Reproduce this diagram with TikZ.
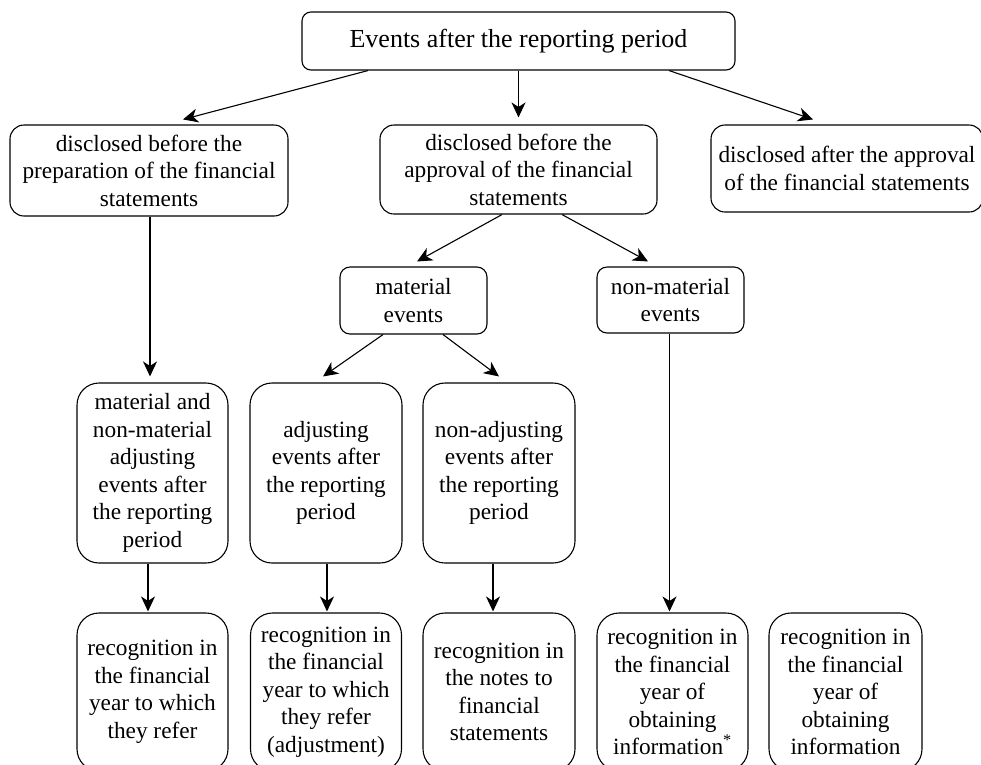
\documentclass[tikz,border=0pt]{standalone}
\usepackage{fontspec}
\setmainfont{Liberation Serif}
\usetikzlibrary{arrows.meta}
\begin{document}
\begin{tikzpicture}[x=1pt,y=-1pt,
		box/.style={draw,line width=1.1pt,align=center,inner sep=0pt,font=\fontsize{23.3}{27.5}\selectfont},
		arr/.style={-{Stealth[length=15pt,width=14pt,inset=4.5pt]},line width=1.1pt}]
		\useasboundingbox (0,0) rectangle (981,764);
		
		\node[box,rounded corners=9pt,minimum width=433pt,minimum height=58pt,font=\fontsize{26}{31}\selectfont] (top) at (518.5,41) {Events after the reporting period};
		
		\node[box,rounded corners=14pt,minimum width=278pt,minimum height=91pt] (A) at (149,170.5) {disclosed before the\\preparation of the financial\\statements};
		\node[box,rounded corners=14pt,minimum width=277pt,minimum height=89pt] (B) at (518.5,169.5) {disclosed before the\\approval of the financial\\statements};
		\node[box,rounded corners=14pt,minimum width=272pt,minimum height=87pt] (C) at (847,168.5) {disclosed after the approval\\of the financial statements};
		
		\node[box,rounded corners=10pt,minimum width=147pt,minimum height=67pt] (mat) at (413.5,300.5) {material\\events};
		\node[box,rounded corners=10pt,minimum width=147pt,minimum height=66pt] (nonmat) at (670.5,300) {non-material\\events};
		
		\node[box,rounded corners=22pt,minimum width=151pt,minimum height=180pt] (D) at (152.5,473) {material and\\non-material\\adjusting\\events after\\the reporting\\period};
		\node[box,rounded corners=22pt,minimum width=152pt,minimum height=180pt] (E) at (326,473) {adjusting\\events after\\the reporting\\period};
		\node[box,rounded corners=22pt,minimum width=152pt,minimum height=180pt] (F) at (499,473) {non-adjusting\\events after\\the reporting\\period};
		
		\node[box,rounded corners=22pt,minimum width=151pt,minimum height=158pt] (D2) at (152.5,692) {recognition in\\the financial\\year to which\\they refer};
		\node[box,rounded corners=22pt,minimum width=151pt,minimum height=158pt] (E2) at (326,692) {recognition in\\the financial\\year to which\\they refer\\(adjustment)};
		\node[box,rounded corners=22pt,minimum width=152pt,minimum height=158pt] (F2) at (499,692) {recognition in\\the notes to\\financial\\statements};
		\node[box,rounded corners=22pt,minimum width=151pt,minimum height=158pt] (G2) at (672.5,692) {recognition in\\the financial\\year of\\obtaining\\information\textsuperscript{*}};
		\node[box,rounded corners=22pt,minimum width=153pt,minimum height=158pt] (H2) at (845.5,692) {recognition in\\the financial\\year of\\obtaining\\information};
		
		\draw[arr] ([xshift=-150.5pt]top.south) -- ([xshift=34pt,yshift=5pt]A.north);
		\draw[arr] (top.south) -- ([yshift=7pt]B.north);
		\draw[arr] ([xshift=150.5pt]top.south) -- ([xshift=-34pt,yshift=5pt]C.north);
		
		\draw[arr] ([xshift=-16.5pt]B.south) -- ([xshift=3.5pt,yshift=5pt]mat.north);
		\draw[arr] ([xshift=43.5pt]B.south) -- ([xshift=-22.5pt,yshift=5pt]nonmat.north);
		
		\draw[arr] ([xshift=1pt]A.south) -- ([xshift=-2.5pt,yshift=6pt]D.north);
		\draw[arr] ([xshift=-30.5pt]mat.south) -- ([xshift=-3pt,yshift=6pt]E.north);
		\draw[arr] ([xshift=29.5pt]mat.south) -- ([yshift=6pt]F.north);
		
		\foreach \a/\b/\s in {D/D2/-4.5,E/E2/1,F/F2/-6}
			\draw[arr] ([xshift=\s pt]\a.south) -- ([xshift=\s pt,yshift=1pt]\b.north);
		\draw[arr] ([xshift=-1pt]nonmat.south) -- ([xshift=-3pt,yshift=1pt]G2.north);
		
	\end{tikzpicture}
\end{document}
